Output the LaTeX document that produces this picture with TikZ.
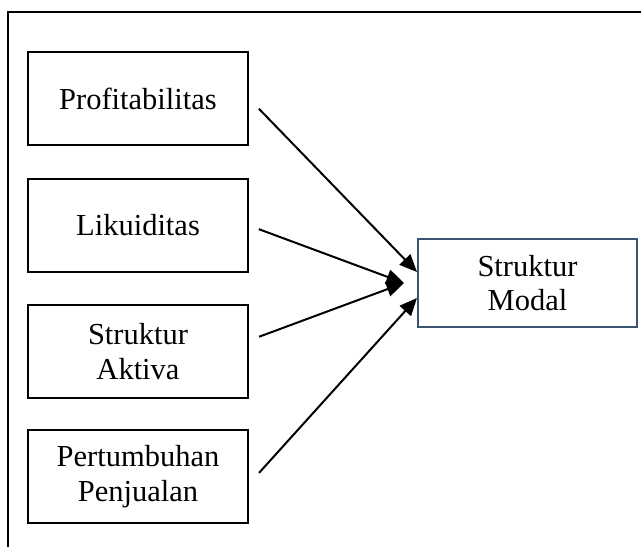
\documentclass[tikz,border=0pt]{standalone}
\usepackage{fontspec}
\setmainfont{Liberation Serif}
\usetikzlibrary{arrows.meta,calc}
\definecolor{framebl}{RGB}{58,82,115}
\begin{document}
\begin{tikzpicture}[x=0.4pt,y=-0.4pt,
  srcbox/.style={draw=black,line width=0.8pt,minimum width=88pt,minimum height=37.2pt,
    align=center,font=\fontsize{12.2pt}{14.2pt}\selectfont,inner sep=0pt},
  tgtbox/.style={draw=framebl,line width=0.8pt,minimum width=87.6pt,minimum height=35.2pt,
    align=center,font=\fontsize{12.2pt}{13.4pt}\selectfont,inner sep=0pt},
  arr/.style={line width=0.8pt,-{Triangle[length=7pt,width=6pt]}}]
\useasboundingbox (0,0) rectangle (641,547);
\draw[line width=0.8pt] (8,547) -- (8,12) -- (641,12);
\node[srcbox] (b1) at (138,98.5) {Profitabilitas};
\node[srcbox] (b2) at (138,225.5) {Likuiditas};
\node[srcbox] (b3) at (138,351.5) {Struktur\\Aktiva};
\node[srcbox] (b4) at (138,476.5) {Pertumbuhan\\Penjualan};
\node[tgtbox] (m) at (527.5,283) {Struktur\\Modal};
\coordinate (m1) at ($(m.west)+(0,-11)$);
\coordinate (m23) at ($(m.west)+(-13,0)$);
\coordinate (m4) at ($(m.west)+(0,15)$);
\coordinate (s3) at ($(b3.east)+(0,-11)$);
\coordinate (s4) at ($(b4.east)+(0,7.5)$);
\draw[arr,shorten <=5.7pt] (b1.east) -- (m1);
\draw[arr,shorten <=4.2pt] (b2.east) -- (m23);
\draw[arr,shorten <=4.3pt] (s3) -- (m23);
\draw[arr,shorten <=6pt] (s4) -- (m4);
\end{tikzpicture}
\end{document}
